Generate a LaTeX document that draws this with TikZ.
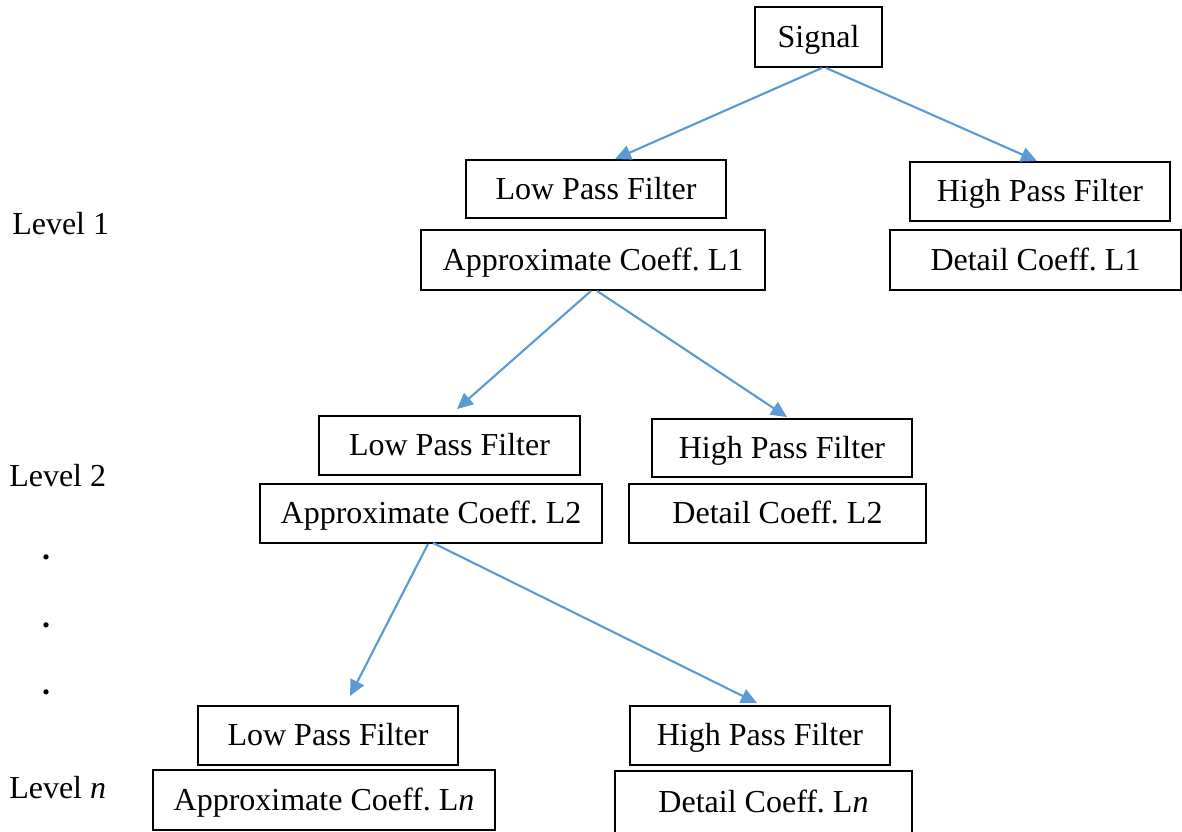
\documentclass[tikz,border=0pt]{standalone}
\usepackage{fontspec}
\setmainfont{Liberation Serif}
\usetikzlibrary{fit,calc,arrows.meta}
\definecolor{arrowblue}{HTML}{5B9BD5}
\frenchspacing
\begin{document}
\begin{tikzpicture}[x=0.75pt,y=-0.75pt,
  txt/.style={inner sep=0pt, font=\fontsize{24}{28}\selectfont},
  intxt/.style={txt, anchor=base},
  box/.style={draw, line width=1.4pt, inner sep=0pt},
  lvl/.style={txt, anchor=west},
  dot/.style={txt, font=\fontsize{24}{28}\selectfont\bfseries},
  arr/.style={draw=arrowblue, line width=1.6pt, -{Triangle[length=12pt,width=11pt]}}]
\useasboundingbox (0,0) rectangle (1182,832);

% root
\node[box, fit={(755,7) (882,67)}] (sig) {};
\node[intxt] (sigt) at ($(sig.center)+(0,10)$) {Signal};

% level 1
\node[box, fit={(466,160) (726,218)}] (lpf1) {};
\node[intxt] (lpf1t) at ($(lpf1.center)+(0,10)$) {Low Pass Filter};
\node[box, fit={(910,162) (1170,221)}] (hpf1) {};
\node[intxt] (hpf1t) at ($(hpf1.center)+(0,10)$) {High Pass Filter};
\node[box, fit={(421,230) (765,290)}] (ac1) {};
\node[intxt] (ac1t) at ($(ac1.center)+(0,10)$) {Approximate Coeff. L1};
\node[box, fit={(890,230) (1181,290)}] (dc1) {};
\node[intxt] (dc1t) at ($(dc1.center)+(0,10)$) {Detail Coeff. L1};

% level 2
\node[box, fit={(319,416) (580,475)}] (lpf2) {};
\node[intxt] (lpf2t) at ($(lpf2.center)+(0,10)$) {Low Pass Filter};
\node[box, fit={(652,419) (912,477)}] (hpf2) {};
\node[intxt] (hpf2t) at ($(hpf2.center)+(0,10)$) {High Pass Filter};
\node[box, fit={(260,484) (602,543)}] (ac2) {};
\node[intxt] (ac2t) at ($(ac2.center)+(0,10)$) {Approximate Coeff. L2};
\node[box, fit={(629,484) (926,543)}] (dc2) {};
\node[intxt] (dc2t) at ($(dc2.center)+(0,10)$) {Detail Coeff. L2};

% level n
\node[box, fit={(198,706) (458,765)}] (lpf3) {};
\node[intxt] (lpf3t) at ($(lpf3.center)+(0,10)$) {Low Pass Filter};
\node[box, fit={(630,706) (890,765)}] (hpf3) {};
\node[intxt] (hpf3t) at ($(hpf3.center)+(0,10)$) {High Pass Filter};
\node[box, fit={(153,770) (495,830)}] (ac3) {};
\node[intxt] (ac3t) at ($(ac3.center)+(0,10)$) {Approximate Coeff. L\textit{n}};
\node[box, fit={(615,771) (912,833)}] (dc3) {};
\node[intxt] (dc3t) at ($(dc3.center)+(0,10)$) {Detail Coeff. L\textit{n}};

% level labels
\node[lvl] (l1) at (12,224) {Level 1};
\node[lvl] (l2) at (9,476) {Level 2};
\node[lvl] (ln) at (9,788) {Level \textit{n}};
\node[dot] (d1) at (46,557) {.};
\node[dot] (d2) at (46,625) {.};
\node[dot] (d3) at (46,692) {.};

% decomposition arrows
\draw[arr] ($(sig.south)+(3.5,0)$) -- ($(lpf1.north)+(19,0)$);
\draw[arr] ($(sig.south)+(7.5,0)$) -- ($(hpf1.north)+(-3,0)$);
\draw[arr] ($(ac1.south)+(-2,0)$) -- ($(lpf2.north)+(7.5,-6)$);
\draw[arr] ($(ac1.south)+(4,0)$) -- ($(hpf2.north)+(5,-1)$);
\draw[arr] ($(ac2.south)+(-3,0)$) -- ($(lpf3.north)+(22,-9)$);
\draw[arr] ($(ac2.south)+(2,-1)$) -- ($(hpf3.north)+(-3,-2)$);
\end{tikzpicture}
\end{document}
